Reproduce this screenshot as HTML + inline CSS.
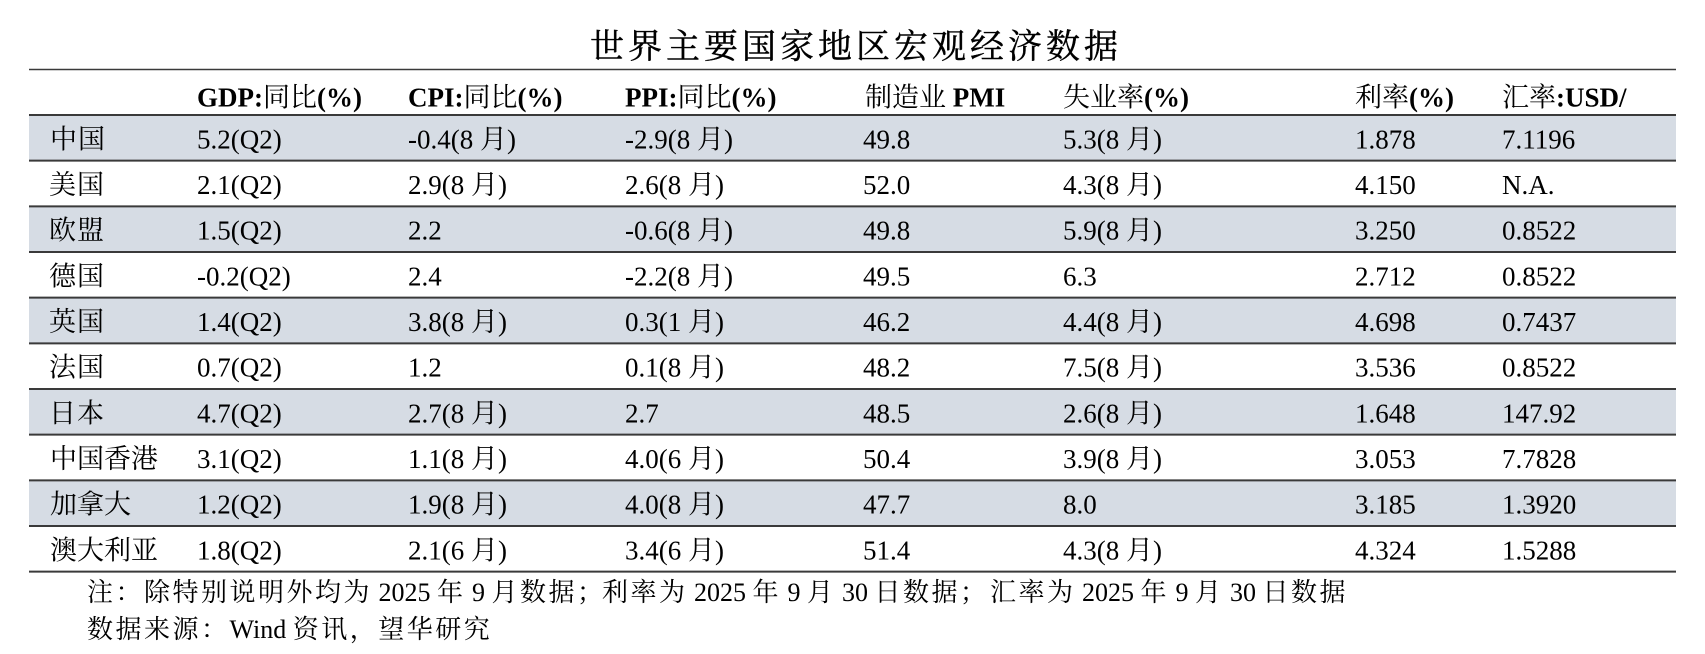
<!DOCTYPE html>
<html>
<head>
<meta charset="utf-8">
<style>
html,body{margin:0;padding:0;background:#fff;}
svg{display:block;}
.t{font-family:"Liberation Serif","Noto Serif CJK SC",serif;font-size:27px;fill:#000;}
.h{font-family:"Liberation Serif","Noto Serif CJK SC",serif;font-size:27px;fill:#000;}
.b{font-weight:bold;}
.c{letter-spacing:1px;}
.n{font-family:"Liberation Serif","Noto Serif CJK SC",serif;font-size:26px;fill:#000;}
.k{letter-spacing:2.5px;}
.title{font-family:"Noto Serif CJK SC","Liberation Serif",serif;font-size:34px;letter-spacing:4px;fill:#000;stroke:#000;stroke-width:0.4px;}
</style>
</head>
<body>
<svg width="1705" height="654" viewBox="0 0 1705 654" xmlns="http://www.w3.org/2000/svg">
  <rect x="0" y="0" width="1705" height="654" fill="#fff"/>
  <!-- title -->
  <text class="title" x="590" y="58">世界主要国家地区宏观经济数据</text>

  <!-- shaded rows -->
  <g fill="#D6DCE4">
    <rect x="29" y="115" width="1647" height="45.67"/>
    <rect x="29" y="206.33" width="1647" height="45.67"/>
    <rect x="29" y="297.67" width="1647" height="45.67"/>
    <rect x="29" y="389" width="1647" height="45.67"/>
    <rect x="29" y="480.33" width="1647" height="45.67"/>
  </g>

  <!-- lines -->
  <g stroke="#3a3a3a" stroke-width="2">
    <line x1="29" y1="69.5" x2="1676" y2="69.5" stroke-width="1.6"/>
    <line x1="29" y1="115" x2="1676" y2="115"/>
    <line x1="29" y1="160.67" x2="1676" y2="160.67"/>
    <line x1="29" y1="206.33" x2="1676" y2="206.33"/>
    <line x1="29" y1="252" x2="1676" y2="252"/>
    <line x1="29" y1="297.67" x2="1676" y2="297.67"/>
    <line x1="29" y1="343.33" x2="1676" y2="343.33"/>
    <line x1="29" y1="389" x2="1676" y2="389"/>
    <line x1="29" y1="434.67" x2="1676" y2="434.67"/>
    <line x1="29" y1="480.33" x2="1676" y2="480.33"/>
    <line x1="29" y1="526" x2="1676" y2="526"/>
    <line x1="29" y1="571.67" x2="1676" y2="571.67"/>
  </g>

  <!-- header -->
  <g class="h">
    <text x="197" y="106.7"><tspan class="b">GDP:</tspan>同比<tspan class="b">(%)</tspan></text>
    <text x="408" y="106.7"><tspan class="b">CPI:</tspan>同比<tspan class="b">(%)</tspan></text>
    <text x="625" y="106.7"><tspan class="b">PPI:</tspan>同比<tspan class="b">(%)</tspan></text>
    <text x="865" y="106.7">制造业 <tspan class="b">PMI</tspan></text>
    <text x="1063" y="106.7">失业率<tspan class="b">(%)</tspan></text>
    <text x="1355" y="106.7">利率<tspan class="b">(%)</tspan></text>
    <text x="1502" y="106.7">汇率<tspan class="b">:USD/</tspan></text>
  </g>

  <!-- rows -->
  <g class="t">
    <!-- 1 -->
    <text class="c" x="50" y="148.3">中国</text>
    <text x="197" y="148.3">5.2(Q2)</text>
    <text x="408" y="148.3">-0.4(8 月)</text>
    <text x="625" y="148.3">-2.9(8 月)</text>
    <text x="863" y="148.3">49.8</text>
    <text x="1063" y="148.3">5.3(8 月)</text>
    <text x="1355" y="148.3">1.878</text>
    <text x="1502" y="148.3">7.1196</text>
    <!-- 2 -->
    <text class="c" x="49" y="194">美国</text>
    <text x="197" y="194">2.1(Q2)</text>
    <text x="408" y="194">2.9(8 月)</text>
    <text x="625" y="194">2.6(8 月)</text>
    <text x="863" y="194">52.0</text>
    <text x="1063" y="194">4.3(8 月)</text>
    <text x="1355" y="194">4.150</text>
    <text x="1502" y="194">N.A.</text>
    <!-- 3 -->
    <text class="c" x="49" y="239.7">欧盟</text>
    <text x="197" y="239.7">1.5(Q2)</text>
    <text x="408" y="239.7">2.2</text>
    <text x="625" y="239.7">-0.6(8 月)</text>
    <text x="863" y="239.7">49.8</text>
    <text x="1063" y="239.7">5.9(8 月)</text>
    <text x="1355" y="239.7">3.250</text>
    <text x="1502" y="239.7">0.8522</text>
    <!-- 4 -->
    <text class="c" x="49" y="285.3">德国</text>
    <text x="197" y="285.3">-0.2(Q2)</text>
    <text x="408" y="285.3">2.4</text>
    <text x="625" y="285.3">-2.2(8 月)</text>
    <text x="863" y="285.3">49.5</text>
    <text x="1063" y="285.3">6.3</text>
    <text x="1355" y="285.3">2.712</text>
    <text x="1502" y="285.3">0.8522</text>
    <!-- 5 -->
    <text class="c" x="49" y="331">英国</text>
    <text x="197" y="331">1.4(Q2)</text>
    <text x="408" y="331">3.8(8 月)</text>
    <text x="625" y="331">0.3(1 月)</text>
    <text x="863" y="331">46.2</text>
    <text x="1063" y="331">4.4(8 月)</text>
    <text x="1355" y="331">4.698</text>
    <text x="1502" y="331">0.7437</text>
    <!-- 6 -->
    <text class="c" x="49" y="376.7">法国</text>
    <text x="197" y="376.7">0.7(Q2)</text>
    <text x="408" y="376.7">1.2</text>
    <text x="625" y="376.7">0.1(8 月)</text>
    <text x="863" y="376.7">48.2</text>
    <text x="1063" y="376.7">7.5(8 月)</text>
    <text x="1355" y="376.7">3.536</text>
    <text x="1502" y="376.7">0.8522</text>
    <!-- 7 -->
    <text class="c" x="49" y="422.3">日本</text>
    <text x="197" y="422.3">4.7(Q2)</text>
    <text x="408" y="422.3">2.7(8 月)</text>
    <text x="625" y="422.3">2.7</text>
    <text x="863" y="422.3">48.5</text>
    <text x="1063" y="422.3">2.6(8 月)</text>
    <text x="1355" y="422.3">1.648</text>
    <text x="1502" y="422.3">147.92</text>
    <!-- 8 -->
    <text x="50" y="468">中国香港</text>
    <text x="197" y="468">3.1(Q2)</text>
    <text x="408" y="468">1.1(8 月)</text>
    <text x="625" y="468">4.0(6 月)</text>
    <text x="863" y="468">50.4</text>
    <text x="1063" y="468">3.9(8 月)</text>
    <text x="1355" y="468">3.053</text>
    <text x="1502" y="468">7.7828</text>
    <!-- 9 -->
    <text x="50" y="513.7">加拿大</text>
    <text x="197" y="513.7">1.2(Q2)</text>
    <text x="408" y="513.7">1.9(8 月)</text>
    <text x="625" y="513.7">4.0(8 月)</text>
    <text x="863" y="513.7">47.7</text>
    <text x="1063" y="513.7">8.0</text>
    <text x="1355" y="513.7">3.185</text>
    <text x="1502" y="513.7">1.3920</text>
    <!-- 10 -->
    <text x="50" y="559.3">澳大利亚</text>
    <text x="197" y="559.3">1.8(Q2)</text>
    <text x="408" y="559.3">2.1(6 月)</text>
    <text x="625" y="559.3">3.4(6 月)</text>
    <text x="863" y="559.3">51.4</text>
    <text x="1063" y="559.3">4.3(8 月)</text>
    <text x="1355" y="559.3">4.324</text>
    <text x="1502" y="559.3">1.5288</text>
  </g>

  <!-- footnotes -->
  <g class="n">
    <text x="87" y="601"><tspan class="k">注：除特别说明外均为</tspan> 2025 <tspan class="k">年</tspan> 9 <tspan class="k">月数据；</tspan></text>
    <text x="602" y="601"><tspan class="k">利率为</tspan> 2025 <tspan class="k">年</tspan> 9 <tspan class="k">月</tspan> 30 <tspan class="k">日数据；</tspan></text>
    <text x="990" y="601"><tspan class="k">汇率为</tspan> 2025 <tspan class="k">年</tspan> 9 <tspan class="k">月</tspan> 30 <tspan class="k">日数据</tspan></text>
    <text x="87" y="638"><tspan class="k">数据来源：</tspan>Wind <tspan class="k">资讯，望华研究</tspan></text>
  </g>
</svg>
</body>
</html>
